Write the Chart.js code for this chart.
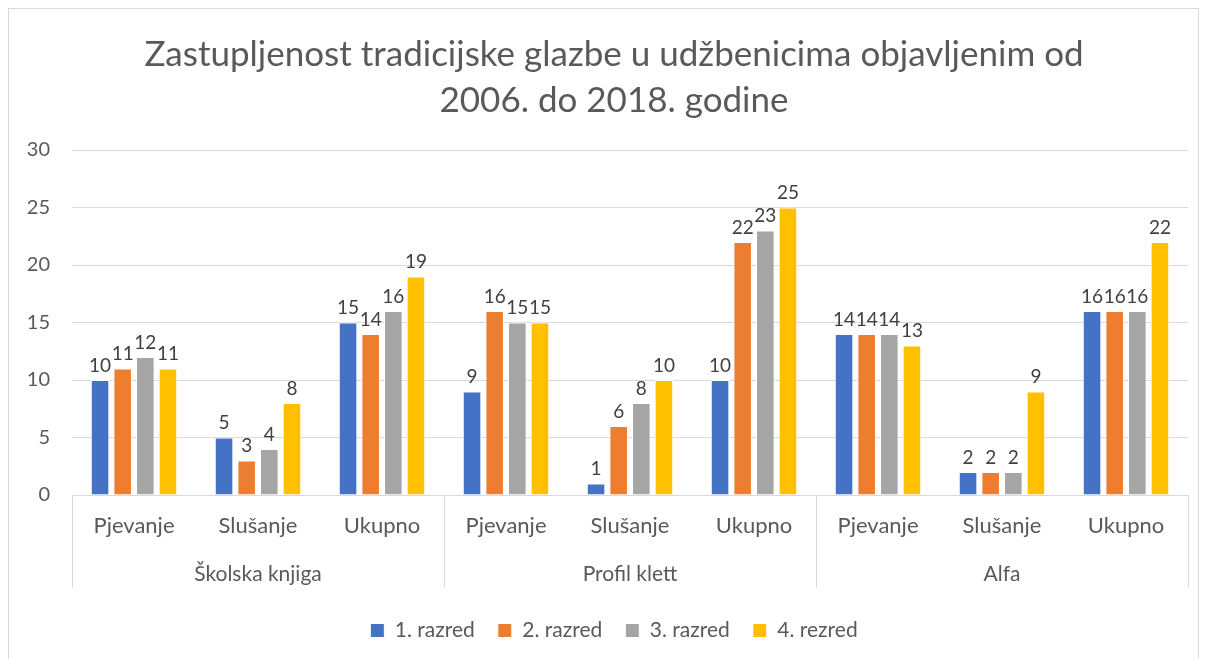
<!DOCTYPE html>
<html>
<head>
<meta charset="utf-8">
<script src="https://cdn.jsdelivr.net/npm/chart.js@4"></script>
<style>
  html, body { margin: 0; padding: 0; background: #fff; }
  #wrap { position: absolute; left: 0; top: 0; width: 1206px; height: 659px; }
</style>
</head>
<body>
<div id="wrap"><canvas id="chart"></canvas></div>
<script>
// podaci
const categories = ['Pjevanje', 'Slušanje', 'Ukupno', 'Pjevanje', 'Slušanje', 'Ukupno', 'Pjevanje', 'Slušanje', 'Ukupno'];
const groups = ['Školska knjiga', 'Profil klett', 'Alfa'];
const razred1 = [10, 5, 15, 9, 1, 10, 14, 2, 16];
const razred2 = [11, 3, 14, 16, 6, 22, 14, 2, 16];
const razred3 = [12, 4, 16, 15, 8, 23, 14, 2, 16];
const razred4 = [11, 8, 19, 15, 10, 25, 13, 9, 22];
const seriesNames = ['1. razred', '2. razred', '3. razred', '4. rezred'];
const colors = ['#4472C4', '#ED7D31', '#A5A5A5', '#FFC000'];

const FONT = 'Lato, "Open Sans", sans-serif';
const AXIS_H = 93;   // visina crta na osi x
const AXIS_FIT = 102; // prostor do legende

// okvir, oznake vrijednosti, grupe na osi x
const excelBits = {
  id: 'excelBits',
  beforeDraw(chart) {
    const c = chart.ctx;
    c.save();
    c.strokeStyle = '#d9d9d9';
    c.lineWidth = 1;
    c.strokeRect(8.5, 8.5, 1190, 660);
    c.restore();
  },
  afterDatasetsDraw(chart) {
    const c = chart.ctx;
    c.save();
    c.font = '19px ' + FONT;
    c.fillStyle = '#404040';
    c.textAlign = 'center';
    c.textBaseline = 'bottom';
    chart.data.datasets.forEach((ds, i) => {
      chart.getDatasetMeta(i).data.forEach((bar, j) => {
        c.fillText(String(ds.data[j]), bar.x, bar.y - 5);
      });
    });
    c.restore();
  },
  afterDraw(chart) {
    const x = chart.scales.x;
    const c = chart.ctx;
    const cw = (x.right - x.left) / categories.length;
    const top = chart.chartArea.bottom;
    c.save();
    c.strokeStyle = '#d9d9d9';
    c.lineWidth = 1;
    c.beginPath();
    c.moveTo(x.left, top + 0.5);
    c.lineTo(x.right, top + 0.5);
    for (let g = 0; g <= groups.length; g++) {
      const px = Math.round(x.left + g * 3 * cw) + 0.5;
      c.moveTo(px, top);
      c.lineTo(px, top + AXIS_H);
    }
    c.stroke();
    c.font = '21px ' + FONT;
    c.fillStyle = '#595959';
    c.textAlign = 'center';
    c.textBaseline = 'middle';
    groups.forEach((g, i) => {
      c.fillText(g, x.left + (i * 3 + 1.5) * cw, top + 79);
    });
    c.restore();
  }
};

new Chart(document.getElementById('chart'), {
  type: 'bar',
  data: {
    labels: categories,
    datasets: [razred1, razred2, razred3, razred4].map((d, i) => ({
      label: seriesNames[i],
      data: d,
      backgroundColor: colors[i],
      borderColor: '#ffffff',
      borderWidth: 1,
      categoryPercentage: 0.73,
      barPercentage: 0.82
    }))
  },
  options: {
    responsive: true,
    maintainAspectRatio: false,
    animation: false,
    layout: { padding: { left: 22, right: 0, top: 12, bottom: 8 } },
    plugins: {
      title: {
        display: true,
        text: ['Zastupljenost tradicijske glazbe u udžbenicima objavljenim od', '2006. do 2018. godine'],
        color: '#595959',
        font: { family: FONT, size: 35, weight: 'normal', lineHeight: 1.3 },
        padding: { top: 20, bottom: 27 }
      },
      legend: {
        position: 'bottom',
        labels: {
          color: '#595959',
          font: { family: FONT, size: 21 },
          boxWidth: 14,
          boxHeight: 14,
          padding: 23
        }
      },
      tooltip: { enabled: false }
    },
    scales: {
      x: {
        grid: { display: false },
        border: { display: false },
        ticks: { color: '#595959', font: { family: FONT, size: 22 }, padding: 10, maxRotation: 0 },
        afterFit(scale) { scale.height = AXIS_FIT; }
      },
      y: {
        min: 0,
        max: 30,
        ticks: { stepSize: 5, color: '#595959', font: { family: FONT, size: 20 }, padding: 22 },
        grid: { color: '#d9d9d9', drawTicks: false },
        border: { display: false },
        afterFit(scale) { scale.width = 50; }
      },
      // prazna os desno, samo za razmak
      yRight: {
        position: 'right',
        grid: { display: false },
        border: { display: false },
        ticks: { display: false },
        afterFit(scale) { scale.width = 18; }
      }
    }
  },
  plugins: [excelBits]
});
</script>
</body>
</html>
